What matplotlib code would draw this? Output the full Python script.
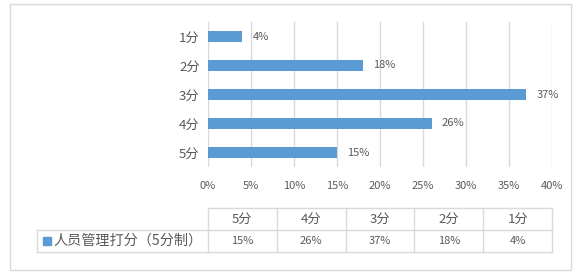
import matplotlib.pyplot as plt
from matplotlib.patches import Rectangle

plt.rcParams['font.family'] = ['Noto Sans CJK SC', 'DejaVu Sans']

# 数据
categories = ['1分', '2分', '3分', '4分', '5分']
values = [4, 18, 37, 26, 15]
series_name = '人员管理打分（5分制）'
table_cols = ['5分', '4分', '3分', '2分', '1分']
table_vals = [15, 26, 37, 18, 4]
x_ticks = [0, 5, 10, 15, 20, 25, 30, 35, 40]

W, H = 586, 277
bar_color = '#5B9BD5'
grid_color = '#D9D9D9'
text_color = '#595959'

fig = plt.figure(figsize=(W / 100, H / 100), dpi=100)

# 底层画布，像素坐标
bg = fig.add_axes([0, 0, 1, 1])
bg.set_xlim(0, W)
bg.set_ylim(H, 0)
bg.axis('off')
bg.add_patch(Rectangle((10, 4), 561, 266, fill=False, edgecolor=grid_color, linewidth=1))

# 条形图
x0, x1, y0, y1 = 208, 552, 22, 167
ax = fig.add_axes([x0 / W, 1 - y1 / H, (x1 - x0) / W, (y1 - y0) / H])
pos = list(range(len(categories)))
ax.barh(pos, values, height=0.35, color=bar_color, zorder=3)
ax.set_xlim(0, 40)
ax.set_ylim(len(categories) - 0.5, -0.5)
ax.set_yticks(pos)
ax.set_yticklabels(categories, fontsize=9.5, color=text_color)
ax.set_xticks(x_ticks)
ax.set_xticklabels([f'{t}%' for t in x_ticks], fontsize=8, color=text_color)
ax.tick_params(length=0, pad=6)
ax.tick_params(axis='x', pad=10)
ax.grid(axis='x', color=grid_color, linewidth=1, zorder=0)
for s in ax.spines.values():
    s.set_visible(False)
for p, v in zip(pos, values):
    ax.text(v + 1.2, p, f'{v}%', va='center', ha='left', fontsize=8, color=text_color)

# 数据表
ty0, ty1, ty2 = 208, 230, 252
cw = (x1 - x0) / len(table_cols)
lw = 1
bg.plot([x0, x1], [ty0, ty0], color=grid_color, lw=lw)
bg.plot([37, x1], [ty1, ty1], color=grid_color, lw=lw)
bg.plot([37, x1], [ty2, ty2], color=grid_color, lw=lw)
bg.plot([37, 37], [ty1, ty2], color=grid_color, lw=lw)
for i in range(len(table_cols) + 1):
    bg.plot([x0 + i * cw] * 2, [ty0, ty2], color=grid_color, lw=lw)
for i, (c, v) in enumerate(zip(table_cols, table_vals)):
    cx = x0 + (i + 0.5) * cw
    bg.text(cx, (ty0 + ty1) / 2, c, ha='center', va='center', fontsize=9.5, color=text_color)
    bg.text(cx, (ty1 + ty2) / 2, f'{v}%', ha='center', va='center', fontsize=8, color=text_color)
bg.add_patch(Rectangle((43, 237), 8, 8, color=bar_color))
bg.text(53, (ty1 + ty2) / 2, series_name, ha='left', va='center', fontsize=10.2, color=text_color)

fig.savefig('out.png', dpi=100)
